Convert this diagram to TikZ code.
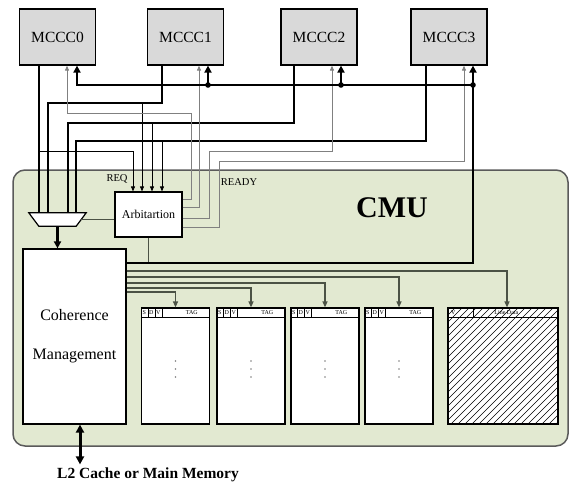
\documentclass[tikz,border=0pt]{standalone}
\usepackage{fontspec}
\setmainfont{Liberation Serif}
\usepackage{tikz}
\usetikzlibrary{backgrounds,arrows.meta,calc}
\usepackage{xcolor}
\definecolor{cmugreen}{HTML}{E2E9D1}
\definecolor{cmuedge}{HTML}{5A5A5A}
\definecolor{boxgray}{HTML}{D9D9D9}
\definecolor{wiregray}{HTML}{808080}
\definecolor{linkgray}{HTML}{4B5245}

\tikzset{
  mccc/.style={draw=black, line width=1.2pt, fill=boxgray, minimum width=76pt, minimum height=56pt, font=\fontsize{15.5}{18}\selectfont},
  unitbox/.style={draw=black, line width=1.2pt, fill=white, inner sep=0pt},
  bus/.style={line width=2.8pt},
  bustip/.style={bus, -{Triangle[length=7pt,width=7pt]}},
  req/.style={line width=0.8pt, -{Triangle[length=5pt,width=4pt]}},
  ready/.style={draw=wiregray, line width=0.9pt, -{Triangle[length=5pt,width=4pt]}},
  link/.style={draw=linkgray, line width=1.2pt, -{Triangle[length=6pt,width=5pt]}},
  tagarray/.style={draw=black, line width=1.2pt, fill=white, minimum width=68pt, minimum height=116pt, inner sep=0pt},
  hdr/.style={font=\fontsize{6}{7}\selectfont, inner sep=0pt},
}

\begin{document}
\begin{tikzpicture}[x=1pt, y=-1pt]
  \useasboundingbox (0,0) rectangle (571,483);
  % processor side
  \node[mccc] (m0) at (57.5,37) {MCCC0};
  \node[mccc] (m1) at (185.5,37) {MCCC1};
  \node[mccc] (m2) at (319,37) {MCCC2};
  \node[mccc] (m3) at (449,37) {MCCC3};
  % CMU
  \node[minimum width=57pt, minimum height=13pt, inner sep=0pt] (mux) at (57.5,219.5) {};
  \draw[line width=1.2pt, fill=white] (mux.north west) -- (mux.north east)
    -- ($(mux.south east)+(-10,0)$) -- ($(mux.south west)+(10,0)$) -- cycle;
  \node[unitbox, minimum width=67pt, minimum height=45pt, font=\fontsize{12}{14}\selectfont] (arb) at (148.5,214.5) {Arbitartion};
  \node[unitbox, minimum width=103pt, minimum height=175pt, align=center, font=\fontsize{16}{39}\selectfont] (cm) at (74.5,336.5) {Coherence\\Management};
  \node[font=\fontsize{30}{34}\selectfont\bfseries] (cmu) at (392,208) {CMU};
  \node[font=\fontsize{10.5}{12}\selectfont] (reqlbl) at (117,179) {REQ};
  \node[font=\fontsize{10.5}{12}\selectfont] (readylbl) at (239,182) {READY};
  \node[font=\fontsize{15.5}{18}\selectfont\bfseries] (l2) at (148,475) {L2 Cache or Main Memory};
  \begin{scope}[on background layer]
    \draw[draw=cmuedge, line width=1.5pt, fill=cmugreen, rounded corners=12pt] (13,170) rectangle (568,446);
  \end{scope}

  % tag arrays
  \foreach \n/\cx in {1/175.5,2/251,3/325,4/399}{
    \node[tagarray] (t\n) at (\cx,366) {};
    \draw[line width=1.2pt] ($(t\n.north west)+(0,10)$) -- ++(68,0);
    \foreach \d in {7,14,21}
      \draw[line width=0.6pt] ($(t\n.north west)+(\d,0)$) -- ++(0,10);
    \node[hdr] at ($(t\n.north west)+(3.5,5)$) {S};
    \node[hdr] at ($(t\n.north west)+(10.5,5)$) {D};
    \node[hdr] at ($(t\n.north west)+(17.5,5)$) {V};
    \node[hdr] at ($(t\n.north west)+(51,5)$) {TAG};
    \foreach \dy in {-5,3,11}
      \fill[gray] ($(t\n.center)+(0,\dy)$) circle (0.8);
  }
  % line data
  \node[tagarray, minimum width=110pt] (ld) at (503,366) {};
  \begin{scope}
    \clip (ld.north west) rectangle (ld.south east);
    \foreach \k in {332,339,...,560}
      \draw[line width=0.6pt] (\k,424) -- ++(116,-116);
  \end{scope}
  \draw[line width=1.2pt] (ld.north west) rectangle (ld.south east);
  \draw[line width=1.2pt] ($(ld.north west)+(0,10)$) -- ++(110,0);
  \draw[line width=0.6pt] ($(ld.north west)+(26,0)$) -- ++(0,10);
  \node[hdr] at ($(ld.north west)+(6,5)$) {V};
  \node[hdr] at ($(ld.north west)+(59,5)$) {Line Data};

  % data buses to mux
  \draw[bus] (m0.south -| 39,0) -- (39,0 |- mux.north);
  \draw[bus] (m1.south -| 162,0) |- (48,103) -- (48,0 |- mux.north);
  \draw[bus] (m2.south -| 294,0) |- (68,123) -- (68,0 |- mux.north);
  \draw[bus] (m3.south -| 426,0) |- (76,141) -- (76,0 |- mux.north);
  % REQ
  \draw[req] (39,151) -| (arb.north -| 133,0);
  \draw[req] (142,103) -- (arb.north -| 142,0);
  \draw[req] (152,123) -- (arb.north -| 152,0);
  \draw[req] (162,141) -- (arb.north -| 162,0);
  % READY
  \draw[ready] (arb.east |- 0,199) -| (191,113) -| (m0.south -| 67,0);
  \draw[ready] (arb.east |- 0,207) -| (m1.south -| 199,0);
  \draw[ready] (arb.east |- 0,218) -| (209,151) -| (m2.south -| 332,0);
  \draw[ready] (arb.east |- 0,227) -| (219,161) -| (m3.south -| 464,0);
  % mux / arbitration
  \draw[draw=linkgray, line width=0.8pt] ([xshift=-5pt]mux.east) -- (mux.east -| arb.west);
  \draw[bustip] (mux.south) -- (mux.south |- cm.north);

  % return bus
  \coordinate (rb) at (473,263);
  \draw[draw=linkgray, line width=0.8pt] (arb.south) -- (arb.south |- rb);
  \draw[bustip] (cm.east |- rb) -| (m3.south -| rb);
  \draw[bustip] (rb |- 0,85) -| (m0.south -| 77,0);
  \draw[bustip] (208,85) -- (m1.south -| 208,0);
  \draw[bustip] (341,85) -- (m2.south -| 341,0);
  \foreach \bx in {208,341,473}
    \fill (\bx,85) circle (2.8);

  % coherence management to arrays
  \draw[link] (cm.east |- 0,271) -| ([xshift=4pt]ld.north);
  \draw[link] (cm.east |- 0,277) -| (t4.north);
  \draw[link] (cm.east |- 0,283) -| (t3.north);
  \draw[link] (cm.east |- 0,288) -| (t2.north);
  \draw[link] (cm.east |- 0,292) -| (t1.north);

  % memory side
  \draw[line width=3pt, {Triangle[length=8pt,width=8pt]}-{Triangle[length=8pt,width=8pt]}] (cm.south -| 80,0) -- (l2.north -| 80,0);
\end{tikzpicture}
\end{document}
